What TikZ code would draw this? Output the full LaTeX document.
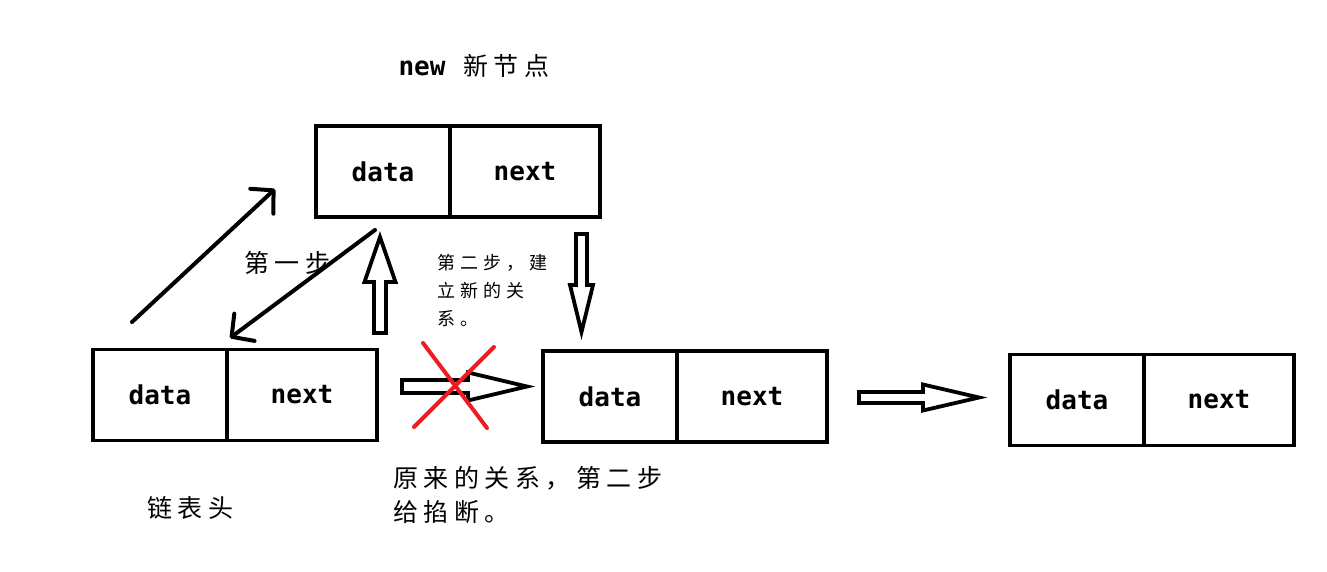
\documentclass[tikz,border=0pt]{standalone}
\usepackage{fontspec}
\usepackage{tikz}
\usetikzlibrary{arrows.meta,positioning}
\newfontfamily\cjk[LetterSpace=22]{Noto Sans CJK SC}
\newfontfamily\cjksmall[LetterSpace=28]{Noto Sans CJK SC}
\newfontfamily\mono{DejaVu Sans Mono}
\definecolor{ccross}{HTML}{ED1C24}
\tikzset{
  cell/.style={draw, line width=3.6pt, outer sep=0pt, inner sep=0pt, minimum height=91pt, font=\fontsize{26}{30}\selectfont\mono\bfseries},
  datac/.style={cell, minimum width=134pt},
  nextc/.style={cell, minimum width=150pt},
  hollow/.style={draw, line width=3.8pt, fill=white, line join=miter},
  linearr/.style={line width=4pt, line cap=round, -{Straight Barb[round, length=16pt, width=34pt]}},
  cross/.style={draw=ccross, line width=4pt, line cap=round},
  big/.style={font=\fontsize{25}{34}\selectfont\cjk, inner sep=0pt},
  small/.style={font=\fontsize{18}{28}\selectfont\cjksmall, inner sep=0pt, align=left},
}

\begin{document}
\begin{tikzpicture}[x=1pt,y=-1pt]
\useasboundingbox (0,0) rectangle (1327,572);
% the new node
\node[big] (title) at (474,66) {{\fontsize{26}{30}\selectfont\mono\bfseries new}\hspace{18pt}新节点};
\node[datac] (nwd) at (383,171.5) {data};
\node[nextc, right=0pt of nwd] (nwn) {next};
% the list
\node[datac] (hdd) at (160,395) {data};
\node[nextc, right=0pt of hdd] (hdn) {next};
\node[datac] (b2d) at (610,396.5) {data};
\node[nextc, right=0pt of b2d] (b2n) {next};
\node[datac] (b3d) at (1077,400) {data};
\node[nextc, right=0pt of b3d] (b3n) {next};
% step one
\coordinate (s1a) at (132,322);
\coordinate (s1b) at (275,189);
\coordinate (s1c) at (375,230);
\coordinate (s1d) at (230,338);
\draw[linearr] (s1a) -- (s1b);
\draw[linearr] (s1c) -- (s1d);
% hollow arrows
\draw[hollow, shift={(402,386.5)}] (0,-6.5) -- (66,-6.5) -- (66,-14) -- (125,0) -- (66,14) -- (66,6.5) -- (0,6.5) -- cycle;
\draw[hollow, shift={(859,397.5)}] (0,-5.5) -- (64,-5.5) -- (64,-13) -- (120,0) -- (64,13) -- (64,5.5) -- (0,5.5) -- cycle;
\draw[hollow, shift={(380,0)}] (-6,333) -- (-6,282) -- (-15.5,282) -- (0,237) -- (15.5,282) -- (6,282) -- (6,333) -- cycle;
\draw[hollow, shift={(581.5,0)}] (-5.5,234) -- (5.5,234) -- (5.5,285) -- (11.5,285) -- (0,332) -- (-11.5,285) -- (-5.5,285) -- cycle;
% broken link
\draw[cross] (423,343) -- (487,428);
\draw[cross] (494,347) -- (414,427);
% labels
\node[big] (step1) at (287,263) {第一步};
\node[small, anchor=north west] (step2) at (437,254) {第二步，建\\立新的关\\系。};
\node[big, anchor=north west, align=left] (oldrel) at (393,466) {原来的关系，第二步\\给掐断。};
\node[big] (headlbl) at (190,508) {链表头};
\end{tikzpicture}
\end{document}
